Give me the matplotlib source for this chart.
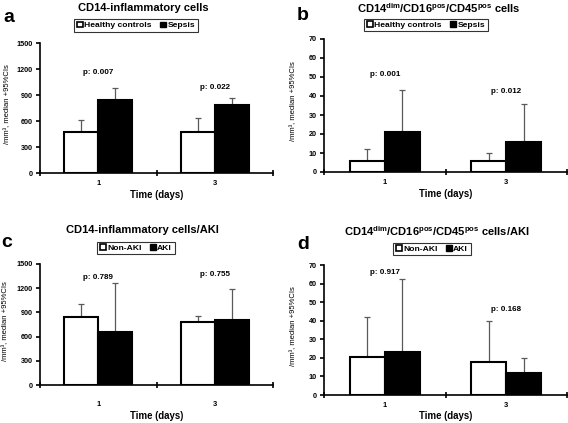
import numpy as np
import matplotlib
matplotlib.use('Agg')
import matplotlib.pyplot as plt
from matplotlib.patches import Patch

plt.rcParams['font.family'] = ['Liberation Sans', 'DejaVu Sans']
plt.rcParams['font.weight'] = 'bold'
plt.rcParams['mathtext.fontset'] = 'custom'
plt.rcParams['mathtext.rm'] = 'Liberation Sans'
plt.rcParams['mathtext.bf'] = 'Liberation Sans:bold'

W, H = 568, 423
days = ['1', '3']

# panel a: CD14-inflammatory cells (median, upper 95% CI)
a_healthy = [470, 470]
a_healthy_up = [610, 640]
a_sepsis = [840, 780]
a_sepsis_up = [985, 865]
a_p = ['p: 0.007', 'p: 0.022']
a_p_y = [1165, 990]

# panel b: CD14dim/CD16pos/CD45pos
b_healthy = [6, 6]
b_healthy_up = [12, 10]
b_sepsis = [21, 16]
b_sepsis_up = [43, 36]
b_p = ['p: 0.001', 'p: 0.012']
b_p_y = [51.5, 42.5]

# panel c: CD14-inflammatory / AKI
c_nonaki = [840, 775]
c_nonaki_up = [1000, 850]
c_aki = [655, 805]
c_aki_up = [1265, 1195]
c_p = ['p: 0.789', 'p: 0.755']
c_p_y = [1330, 1370]

# panel d: CD14dim/CD16pos/CD45pos / AKI
d_nonaki = [20.5, 18]
d_nonaki_up = [42, 40]
d_aki = [23, 12]
d_aki_up = [62.5, 20]
d_p = ['p: 0.917', 'p: 0.168']
d_p_y = [66, 45.8]

sub = r'CD14$^{\mathbf{dim}}$/CD16$^{\mathbf{pos}}$/CD45$^{\mathbf{pos}}$'

# layout in pixels: axes box (l, r, top, bottom), title/legend/letter centres
panels = [
    dict(box=(40, 273, 43, 173), title_xy=(143, 8), leg_xy=(136, 25.5), let_xy=(9, 18),
         ylab_x=8, tick_gap=10, xlab_gap=22, letter='a', title='CD14-inflammatory cells',
         v1=a_healthy, u1=a_healthy_up, v2=a_sepsis, u2=a_sepsis_up, p=a_p, py=a_p_y,
         labels=['Healthy controls', 'Sepsis'], ymax=1500, step=300),
    dict(box=(324, 567, 39, 172), title_xy=(439, 8), leg_xy=(426, 25), let_xy=(303, 15),
         ylab_x=294, tick_gap=11, xlab_gap=22, letter='b', title=sub + ' cells',
         v1=b_healthy, u1=b_healthy_up, v2=b_sepsis, u2=b_sepsis_up, p=b_p, py=b_p_y,
         labels=['Healthy controls', 'Sepsis'], ymax=70, step=10),
    dict(box=(40, 273, 264, 385), title_xy=(142, 230), leg_xy=(136, 248), let_xy=(7, 242),
         ylab_x=6, tick_gap=19, xlab_gap=31, letter='c', title='CD14-inflammatory cells/AKI',
         v1=c_nonaki, u1=c_nonaki_up, v2=c_aki, u2=c_aki_up, p=c_p, py=c_p_y,
         labels=['Non-AKI', 'AKI'], ymax=1500, step=300),
    dict(box=(324, 567, 265, 395), title_xy=(437, 231), leg_xy=(432, 249), let_xy=(303, 244),
         ylab_x=294, tick_gap=10, xlab_gap=21, letter='d', title=sub + ' cells/AKI',
         v1=d_nonaki, u1=d_nonaki_up, v2=d_aki, u2=d_aki_up, p=d_p, py=d_p_y,
         labels=['Non-AKI', 'AKI'], ymax=70, step=10),
]

fig = plt.figure(figsize=(W / 100, H / 100), dpi=100)
w = 0.29
x = np.arange(len(days))

for pn in panels:
    l, r, t, b = pn['box']
    ax = fig.add_axes([l / W, 1 - b / H, (r - l) / W, (b - t) / H])
    hpx = b - t
    e1 = np.array(pn['u1']) - np.array(pn['v1'])
    e2 = np.array(pn['u2']) - np.array(pn['v2'])
    ax.bar(x - w / 2, pn['v1'], w, color='white', edgecolor='black', linewidth=1.5, zorder=3)
    ax.bar(x + w / 2, pn['v2'], w, color='black', edgecolor='black', linewidth=1.5, zorder=3)
    ax.errorbar(x - w / 2, pn['v1'], yerr=[np.zeros(2), e1], fmt='none', ecolor='#5a5a5a',
                elinewidth=0.9, capsize=2, capthick=0.9, zorder=2)
    ax.errorbar(x + w / 2, pn['v2'], yerr=[np.zeros(2), e2], fmt='none', ecolor='#5a5a5a',
                elinewidth=0.9, capsize=2, capthick=0.9, zorder=2)
    for i in range(len(days)):
        ax.text(x[i], pn['py'][i], pn['p'][i], ha='center', va='center', fontsize=5.8)
    ax.set_xlim(-0.5, 1.5)
    ax.set_ylim(0, pn['ymax'])
    ax.set_yticks(np.arange(0, pn['ymax'] + 1, pn['step']))
    ax.set_xticks([-0.5, 0.5, 1.5])
    ax.set_xticklabels([])
    ax.set_xticks(x, minor=True)
    ax.set_xticklabels(days, minor=True)
    pad_pt = (pn['tick_gap'] - 3.5) * 0.72
    ax.tick_params(axis='x', which='minor', length=0, labelsize=5.4, pad=pad_pt)
    ax.tick_params(axis='x', which='major', length=4, direction='inout', width=1.2)
    ax.tick_params(axis='y', length=3, width=1.2, labelsize=5.2, pad=2)
    for tl in ax.get_yticklabels() + ax.get_xticklabels(minor=True):
        tl.set_fontweight('bold')
    for s in ['top', 'right']:
        ax.spines[s].set_visible(False)
    ax.spines['left'].set_linewidth(1.2)
    ax.spines['bottom'].set_linewidth(1.2)
    ax.set_xlabel('Time (days)', fontsize=6.9, fontweight='bold', va='center')
    ax.xaxis.set_label_coords(0.5, -pn['xlab_gap'] / hpx)
    ax.set_ylabel('/mm³, median +95%CIs', fontsize=5.5, fontweight='normal', va='center')
    ax.yaxis.set_label_coords((pn['ylab_x'] - l) / (r - l), 0.53)
    tx, ty = pn['title_xy']
    fig.text(tx / W, 1 - ty / H, pn['title'], fontsize=8, fontweight='bold',
             ha='center', va='center')
    lx, ly = pn['let_xy']
    fig.text(lx / W, 1 - ly / H, pn['letter'], fontsize=14, fontweight='bold',
             ha='center', va='center')
    handles = [Patch(facecolor='white', edgecolor='black', linewidth=1.2),
               Patch(facecolor='black', edgecolor='black')]
    gx, gy = pn['leg_xy']
    leg = ax.legend(handles, pn['labels'], loc='center', bbox_to_anchor=(gx / W, 1 - gy / H),
                    bbox_transform=fig.transFigure, ncol=2, fontsize=6.1, frameon=True,
                    fancybox=False, handlelength=0.65, handleheight=0.65, handletextpad=0.2,
                    columnspacing=1.0, borderpad=0.3)
    leg.get_frame().set_edgecolor('black')
    leg.get_frame().set_linewidth(0.8)
    for tl in leg.get_texts():
        tl.set_fontweight('bold')

fig.savefig('out.png', dpi=100)
